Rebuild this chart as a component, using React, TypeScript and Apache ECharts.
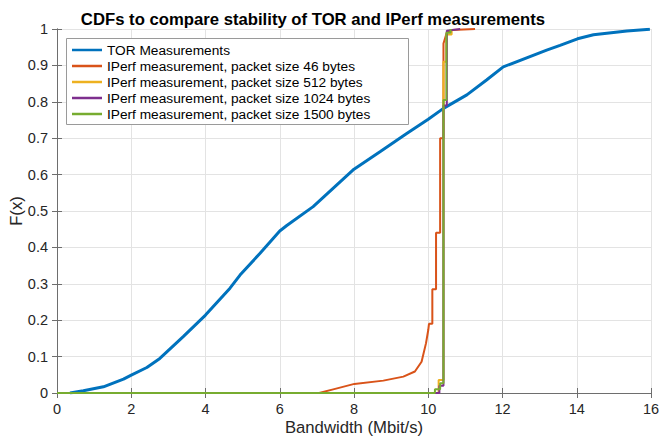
import React, { useEffect, useRef } from "react";
import * as echarts from "echarts";

const titleText = "CDFs to compare stability of TOR and IPerf measurements";
const xTicks = [0, 2, 4, 6, 8, 10, 12, 14, 16];
const yTicks = [0, 0.1, 0.2, 0.3, 0.4, 0.5, 0.6, 0.7, 0.8, 0.9, 1];

const seriesNames = [
  "TOR Measurements",
  "IPerf measurement, packet size 46 bytes",
  "IPerf measurement, packet size 512 bytes",
  "IPerf measurement, packet size 1024 bytes",
  "IPerf measurement, packet size 1500 bytes",
];
const seriesColors = ["#0072BD", "#D95319", "#EDB120", "#7E2F8E", "#77AC30"];

const torCdf: [number, number][] = [
  [0.35, 0], [0.71, 0.006], [1.25, 0.017], [1.79, 0.038], [2.0, 0.049],
  [2.42, 0.07], [2.77, 0.095], [3.4, 0.155], [4.0, 0.214], [4.66, 0.288],
  [4.93, 0.324], [5.47, 0.384], [6.0, 0.445], [6.19, 0.46], [6.9, 0.512],
  [8.0, 0.615], [8.7, 0.663], [9.42, 0.713], [10.0, 0.752], [10.41, 0.782],
  [11.04, 0.819], [11.57, 0.86], [12.02, 0.896], [13.19, 0.942], [13.55, 0.955],
  [14.02, 0.973], [14.45, 0.984], [15.35, 0.9945], [15.97, 0.999],
];

const iperf46: [number, number][] = [
  [7.06, 0], [7.44, 0.01], [8.01, 0.025], [8.79, 0.034], [9.33, 0.045],
  [9.64, 0.059], [9.82, 0.086], [9.94, 0.137], [10.0, 0.173], [10.02, 0.19],
  [10.11, 0.19], [10.11, 0.285], [10.21, 0.285], [10.21, 0.44], [10.32, 0.44],
  [10.32, 0.7], [10.41, 0.7], [10.41, 0.96], [10.5, 0.99], [10.63, 0.997],
  [11.26, 1.0],
];

const iperf512: [number, number][] = [
  [0, 0], [10.28, 0], [10.28, 0.036], [10.41, 0.036], [10.41, 0.91],
  [10.49, 0.91], [10.49, 0.985], [10.63, 0.985], [10.63, 1.0],
];

const iperf1024: [number, number][] = [
  [0, 0], [10.3, 0], [10.3, 0.02], [10.41, 0.02], [10.41, 0.79],
  [10.5, 0.79], [10.5, 0.995], [10.86, 1.0],
];

const iperf1500: [number, number][] = [
  [0, 0], [10.18, 0], [10.18, 0.01], [10.32, 0.01], [10.32, 0.027],
  [10.41, 0.027], [10.41, 0.805], [10.49, 0.805], [10.49, 0.99], [10.6, 0.99],
  [10.6, 1.0],
];

const seriesData = [torCdf, iperf46, iperf512, iperf1024, iperf1500];
const seriesWidths = [3, 2, 2, 2, 2];

const FONT = "'Liberation Sans', Arial, Helvetica, sans-serif";

export default function App() {
  const ref = useRef<HTMLDivElement>(null);
  useEffect(() => {
    if (!ref.current) return;
    const chart = echarts.init(ref.current, undefined, { renderer: "svg" });
    const axisLine = { show: true, lineStyle: { color: "#6e6e6e", width: 1 } };
    const axisTick = { show: true, inside: true, length: 5, lineStyle: { color: "#6e6e6e" } };
    const fmtY = (v: number) => (v === 0 ? "0" : v === 1 ? "1" : v.toFixed(1));
    chart.setOption({
      animation: false,
      textStyle: { fontFamily: FONT },
      title: {
        text: titleText,
        left: 308,
        textAlign: "center",
        top: 6,
        textStyle: { fontFamily: FONT, fontSize: 16.7, fontWeight: "bold", color: "#000" },
      },
      grid: { left: 57, right: 8, top: 29, bottom: 46, outerBoundsMode: "none", containLabel: false },
      xAxis: [
        {
          type: "value",
          min: xTicks[0],
          max: xTicks[xTicks.length - 1],
          interval: 2,
          name: "Bandwidth (Mbit/s)",
          nameLocation: "middle",
          nameMoveOverlap: false,
          nameGap: 26,
          nameTextStyle: { fontFamily: FONT, fontSize: 16.7, color: "#262626" },
          axisLine,
          axisTick,
          axisLabel: { fontFamily: FONT, fontSize: 14.5, color: "#262626", margin: 8 },
          splitLine: { show: true, lineStyle: { color: "#e3e3e3", width: 1 } },
        },
        {
          type: "value",
          position: "top",
          min: xTicks[0],
          max: xTicks[xTicks.length - 1],
          interval: 2,
          axisLine,
          axisTick,
          axisLabel: { show: false },
          splitLine: { show: false },
        },
      ],
      yAxis: [
        {
          type: "value",
          min: yTicks[0],
          max: yTicks[yTicks.length - 1],
          interval: 0.1,
          name: "F(x)",
          nameLocation: "middle",
          nameMoveOverlap: false,
          nameGap: 32,
          nameTextStyle: { fontFamily: FONT, fontSize: 16.7, color: "#262626" },
          axisLine,
          axisTick,
          axisLabel: { fontFamily: FONT, fontSize: 14.5, color: "#262626", margin: 9, formatter: fmtY },
          splitLine: { show: true, lineStyle: { color: "#e3e3e3", width: 1 } },
        },
        {
          type: "value",
          position: "right",
          min: yTicks[0],
          max: yTicks[yTicks.length - 1],
          interval: 0.1,
          axisLine,
          axisTick,
          axisLabel: { show: false },
          splitLine: { show: false },
        },
      ],
      legend: {
        left: 72,
        top: 43,
        orient: "vertical",
        padding: 0,
        itemGap: 2,
        itemWidth: 30,
        itemHeight: 2.5,
        icon: "rect",
        z: 5,
        textStyle: { fontFamily: FONT, fontSize: 13.7, color: "#000", lineHeight: 14 },
        data: seriesNames,
      },
      graphic: [
        {
          type: "rect",
          z: 4,
          shape: { x: 66.5, y: 38.5, width: 342, height: 86 },
          style: { fill: "#fff", stroke: "#9a9a9a", lineWidth: 1 },
        },
      ],
      series: seriesNames.map((name, i) => ({
        name,
        type: "line",
        xAxisIndex: 0,
        yAxisIndex: 0,
        data: seriesData[i],
        symbol: "none",
        showSymbol: false,
        clip: true,
        color: seriesColors[i],
        lineStyle: { color: seriesColors[i], width: seriesWidths[i] },
        itemStyle: { color: seriesColors[i] },
        z: 2 + i * 0.01,
      })),
    });
    return () => chart.dispose();
  }, []);
  return (
    <div
      ref={ref}
      style={{ position: "fixed", left: 0, top: 0, width: 659, height: 439, background: "#fff" }}
    />
  );
}
